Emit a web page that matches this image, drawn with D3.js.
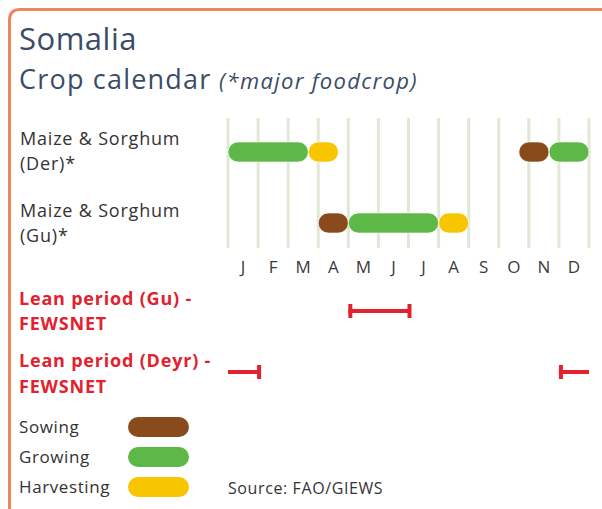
<!DOCTYPE html>
<html>
<head>
<meta charset="utf-8">
<script src="https://cdn.jsdelivr.net/npm/d3@7"></script>
<style>
  html, body { margin: 0; padding: 0; background: #ffffff; }
  svg { display: block; }
  text { font-family: "Open Sans", "Noto Sans", sans-serif; }
</style>
</head>
<body>
<svg id="chart" width="602" height="509"></svg>
<script>
// ---------- DATA ----------
const months = ["J", "F", "M", "A", "M", "J", "J", "A", "S", "O", "N", "D"];
const crops = ["Maize & Sorghum|(Der)*", "Maize & Sorghum|(Gu)*"];
// stage segments in month units (0 = 1 Jan, 12 = 31 Dec)
const derStages = [
  { stage: "Growing", start: 0, end: 2.67 },
  { stage: "Harvesting", start: 2.67, end: 3.67 },
  { stage: "Sowing", start: 9.67, end: 10.67 },
  { stage: "Growing", start: 10.67, end: 12 }
];
const guStages = [
  { stage: "Sowing", start: 3, end: 4 },
  { stage: "Growing", start: 4, end: 7 },
  { stage: "Harvesting", start: 7, end: 8 }
];
const leanLabels = ["Lean period (Gu) -|FEWSNET", "Lean period (Deyr) -|FEWSNET"];
const leanGu = [4, 6];      // May - June
const leanDeyr = [11, 1];   // Dec - Jan (wraps year)
const stageNames = ["Sowing", "Growing", "Harvesting"];
const stageColors = ["#8a4b1c", "#5db847", "#f8c600"];

// ---------- DRAW ----------
const svg = d3.select("#chart");
const x = d3.scaleLinear().domain([0, 12]).range([228, 589]);
const color = d3.scaleOrdinal().domain(stageNames).range(stageColors);
const red = "#e2222e";

// frame
svg.append("path")
  .attr("d", "M9.5,520 L9.5,20 Q9.5,9.5 20,9.5 L620,9.5")
  .attr("fill", "none").attr("stroke", "#ec8660").attr("stroke-width", 3);

// titles
svg.append("text").attr("x", 19).attr("y", 50)
  .attr("font-size", 31).attr("letter-spacing", 0.5).attr("fill", "#3b4d66").text("Somalia");
const t2 = svg.append("text").attr("x", 19).attr("y", 89)
  .attr("font-size", 27).attr("letter-spacing", 1.2).attr("fill", "#3b4d66");
t2.append("tspan").text("Crop calendar");
t2.append("tspan").attr("x", 219).attr("font-size", 22).attr("letter-spacing", 1.3)
  .attr("font-style", "italic").text("(*major foodcrop)");

// gridlines
svg.append("g").selectAll("line").data(d3.range(13)).join("line")
  .attr("x1", d => x(d)).attr("x2", d => x(d))
  .attr("y1", 118).attr("y2", 248)
  .attr("stroke", "#e1e8d6").attr("stroke-width", 3);

// month axis (labels only)
const axis = d3.axisBottom(d3.scaleBand().domain(d3.range(12)).range([x(0), x(12)]))
  .tickFormat(i => months[i]).tickSize(0).tickPadding(0);
const ag = svg.append("g").attr("transform", "translate(0,259)").call(axis);
ag.select(".domain").remove();
ag.selectAll("text").attr("font-size", 17).attr("fill", "#3a3a3a")
  .attr("font-family", "'Open Sans', sans-serif").attr("dy", "0.85em");

// crop rows
const rowY = [152, 223];
const rowLabelY = [[145, 170], [217, 242]];
crops.forEach((c, i) => {
  const t = svg.append("text").attr("font-size", 18).attr("letter-spacing", 0.8).attr("fill", "#333");
  c.split("|").forEach((line, j) => {
    t.append("tspan").attr("x", 20).attr("y", rowLabelY[i][j]).text(line);
  });
});
const barH = 20;
[derStages, guStages].forEach((stages, i) => {
  svg.append("g").selectAll("rect").data(stages).join("rect")
    .attr("x", d => x(d.start)).attr("width", d => x(d.end) - x(d.start))
    .attr("y", rowY[i] - barH / 2).attr("height", barH)
    .attr("rx", barH / 2)
    .attr("fill", d => color(d.stage))
    .attr("stroke", "#ffffff").attr("stroke-width", 1).attr("stroke-opacity", 0.6);
});

// lean periods
const leanY = [311, 372];
const leanTextY = [[305, 330], [367, 393]];
leanLabels.forEach((l, i) => {
  const t = svg.append("text").attr("font-size", 18).attr("letter-spacing", 0.8)
    .attr("font-weight", "bold").attr("fill", red);
  l.split("|").forEach((line, j) => {
    t.append("tspan").attr("x", 19).attr("y", leanTextY[i][j]).text(line);
  });
});
function drawLean(range, yy) {
  const g = svg.append("g").attr("stroke", red);
  const [s, e] = range;
  const segs = s < e ? [[s, e, true, true]] : [[s, 12, true, false], [0, e, false, true]];
  segs.forEach(([a, b, capA, capB]) => {
    g.append("line").attr("x1", x(a)).attr("x2", x(b)).attr("y1", yy).attr("y2", yy)
      .attr("stroke-width", 4);
    if (capA) g.append("line").attr("x1", x(a) + 2).attr("x2", x(a) + 2)
      .attr("y1", yy - 7).attr("y2", yy + 7).attr("stroke-width", 4);
    if (capB) g.append("line").attr("x1", x(b) + 1).attr("x2", x(b) + 1)
      .attr("y1", yy - 7).attr("y2", yy + 7).attr("stroke-width", 4);
  });
}
drawLean(leanGu, leanY[0]);
drawLean(leanDeyr, leanY[1]);

// legend
const legY = [427, 457, 487];
stageNames.forEach((s, i) => {
  svg.append("text").attr("x", 19).attr("y", legY[i] + 6).attr("font-size", 17)
    .attr("letter-spacing", 0.6).attr("fill", "#333").text(s);
  svg.append("rect").attr("x", 128).attr("y", legY[i] - 10).attr("width", 61).attr("height", 20)
    .attr("rx", 10).attr("fill", color(s));
});
svg.append("text").attr("x", 228).attr("y", 494).attr("font-size", 16)
  .attr("letter-spacing", 0.6).attr("fill", "#333").text("Source: FAO/GIEWS");
</script>
</body>
</html>
